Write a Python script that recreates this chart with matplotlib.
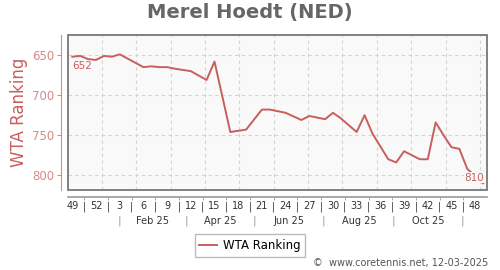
import matplotlib
matplotlib.use('Agg')
import matplotlib.pyplot as plt
from matplotlib.patches import Rectangle

# data: week index (0 = week 49 of 2024) and WTA ranking
weeks = [0, 1, 2, 3, 4, 5, 6, 9, 10, 11, 12, 13, 15, 17, 18, 20, 22, 24, 25,
         27, 29, 30, 32, 33, 34, 36, 37, 38, 40, 41, 42, 44, 45, 46, 47, 48,
         49, 50, 52]
ranking = [652, 651, 655, 656, 651, 652, 649, 665, 664, 665, 665, 667, 670,
           681, 658, 746, 743, 718, 718, 722, 731, 726, 730, 722, 729, 746,
           725, 748, 780, 784, 770, 780, 780, 734, 750, 765, 767, 792, 810]

week_labels = ['49', '52'] + [str(w) for w in range(3, 49, 3)]
month_labels = ['Feb 25', 'Apr 25', 'Jun 25', 'Aug 25', 'Oct 25']
month_centers = [10.2, 18.7, 27.4, 36.3, 45.1]
month_seps = [5.95, 14.4, 23.1, 31.8, 40.6, 49.4]
month_grid = [3.75 + 4.35 * k for k in range(12)]

RED = '#c85f5f'
RED_LIGHT = '#d68a8a'


def main():
    fig = plt.figure(figsize=(5, 2.7), dpi=100)
    ax = fig.add_axes([0.136, 0.296, 0.838, 0.574])
    ax.set_facecolor('#f9f9f9')

    ax.plot(weeks, ranking, color=RED, lw=1.4, zorder=3)

    ax.set_xlim(-0.55, 52.5)
    ax.set_ylim(818.5, 625)

    # grid
    for g in month_grid:
        ax.axvline(g, color='#d2d2d2', lw=0.8, ls=(0, (3, 3)), zorder=1)
    for v in [650, 700, 750, 800]:
        ax.axhline(v, color='#d2d2d2', lw=0.8, ls=(0, (3, 3)), zorder=1)

    # frame + detached axes
    ax.add_patch(Rectangle((0, 0), 1, 1, transform=ax.transAxes, fill=False,
                           edgecolor='#777777', lw=1.3, clip_on=False, zorder=4))
    ax.spines['top'].set_visible(False)
    ax.spines['right'].set_visible(False)
    ax.spines['left'].set_position(('outward', 5))
    ax.spines['left'].set_color(RED_LIGHT)
    ax.spines['bottom'].set_position(('outward', 5))
    ax.spines['bottom'].set_color('#9a9a9a')
    ax.spines['bottom'].set_linewidth(1.2)

    ax.set_yticks([650, 700, 750, 800])
    ax.tick_params(axis='y', colors=RED_LIGHT, labelcolor=RED_LIGHT,
                   labelsize=8.5, length=3, pad=2)

    ax.set_xticks(range(0, 52, 3))
    ax.set_xticklabels(week_labels)
    ax.set_xticks([1.5 + 3 * k for k in range(17)], minor=True)
    ax.set_xticklabels(['|'] * 17, minor=True)
    ax.tick_params(axis='x', which='major', length=0, labelsize=7,
                   labelcolor='#333333', pad=3)
    ax.tick_params(axis='x', which='minor', length=2, labelsize=7,
                   color='#9a9a9a', labelcolor='#333333', pad=1.5)

    # month row
    for m, c in zip(month_labels, month_centers):
        ax.annotate(m, xy=(c, 0), xycoords=ax.get_xaxis_transform(),
                    xytext=(0, -22), textcoords='offset points',
                    ha='center', va='center', fontsize=7, color='#333333')
    for s in month_seps:
        ax.annotate('|', xy=(s, 0), xycoords=ax.get_xaxis_transform(),
                    xytext=(0, -22), textcoords='offset points',
                    ha='center', va='center', fontsize=8, color='#999999')

    ax.set_ylabel('WTA Ranking', color=RED, fontsize=12, labelpad=3)

    # first / last labels
    ax.annotate(str(ranking[0]), xy=(weeks[0], ranking[0]), xytext=(0, -7),
                textcoords='offset points', ha='left', va='center',
                fontsize=7.5, color=RED, zorder=5)
    ax.annotate(str(ranking[-1]), xy=(weeks[-1], ranking[-1]), xytext=(1, 4),
                textcoords='offset points', ha='right', va='center',
                fontsize=7.5, color=RED, zorder=5,
                bbox=dict(boxstyle='square,pad=0.05', fc='#f9f9f9', ec='none'))

    fig.suptitle('Merel Hoedt (NED)', x=0.5, y=0.99, fontsize=14,
                 fontweight='bold', color='#666666')

    leg = fig.legend(['WTA Ranking'], loc='center', bbox_to_anchor=(0.5, 0.0907),
                     fontsize=8.5, frameon=True, fancybox=False,
                     handlelength=1.5, borderpad=0.4, handletextpad=0.5)
    leg.get_frame().set_edgecolor('#aaaaaa')

    fig.text(0.976, 0.026, '\u00a9  www.coretennis.net, 12-03-2025',
             ha='right', va='center', fontsize=7, color='#555555')

    fig.savefig('out.png', dpi=100)


if __name__ == "__main__":
    main()
